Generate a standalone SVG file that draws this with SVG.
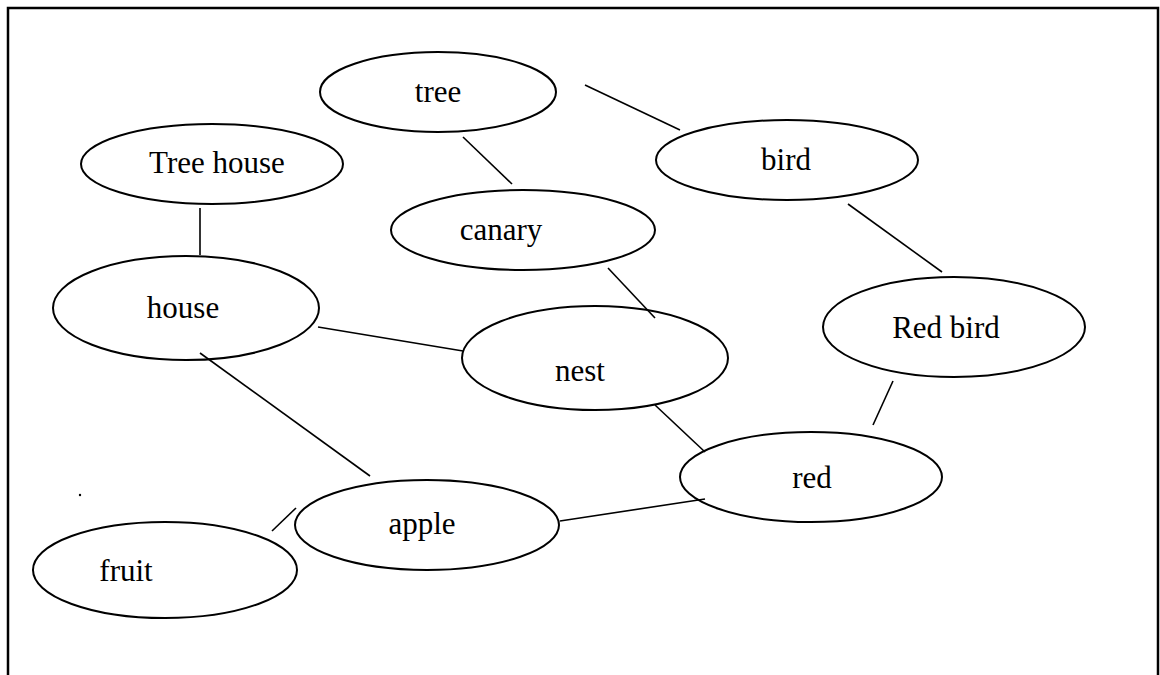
<svg xmlns="http://www.w3.org/2000/svg" width="1160" height="675" viewBox="0 0 1160 675">
<style>
.n{fill:#fff;stroke:#000;stroke-width:2}
.t{font-family:"Liberation Serif","Times New Roman",serif;font-size:31px;fill:#000;text-anchor:middle}
.c line{stroke:#000;stroke-width:1.6}
</style>
<rect width="1160" height="675" fill="#fff"/>
<path d="M8 675 V8 H1158 V675" fill="none" stroke="#000" stroke-width="2.5"/>
<circle cx="80" cy="495" r="1.2" fill="#000"/>
<g id="tree"><ellipse class="n" cx="438" cy="92" rx="118" ry="40"/><text class="t" x="438" y="102">tree</text></g>
<g id="bird"><ellipse class="n" cx="787" cy="160" rx="131" ry="40"/><text class="t" x="786" y="170">bird</text></g>
<g id="treehouse"><ellipse class="n" cx="212" cy="164" rx="131" ry="40"/><text class="t" x="217" y="173">Tree house</text></g>
<g id="canary"><ellipse class="n" cx="523" cy="230" rx="132" ry="40"/><text class="t" x="501" y="240">canary</text></g>
<g id="house"><ellipse class="n" cx="186" cy="308" rx="133" ry="52"/><text class="t" x="183" y="318">house</text></g>
<g id="nest"><ellipse class="n" cx="595" cy="358" rx="133" ry="52"/><text class="t" x="580" y="381">nest</text></g>
<g id="redbird"><ellipse class="n" cx="954" cy="327" rx="131" ry="50"/><text class="t" x="946" y="338">Red bird</text></g>
<g id="red"><ellipse class="n" cx="811" cy="477" rx="131" ry="45"/><text class="t" x="812" y="488">red</text></g>
<g id="apple"><ellipse class="n" cx="427" cy="525" rx="132" ry="45"/><text class="t" x="422" y="534">apple</text></g>
<g id="fruit"><ellipse class="n" cx="165" cy="570" rx="132" ry="48"/><text class="t" x="126" y="581">fruit</text></g>
<g class="c">
<line x1="585" y1="85" x2="680" y2="130"/>
<line x1="463" y1="137" x2="512" y2="184"/>
<line x1="200" y1="208" x2="200" y2="255"/>
<line x1="608" y1="268" x2="655" y2="318"/>
<line x1="848" y1="204" x2="942" y2="272"/>
<line x1="893" y1="381" x2="873" y2="425"/>
<line x1="318" y1="327" x2="463" y2="351"/>
<line x1="655" y1="405" x2="705" y2="452"/>
<line x1="200" y1="353" x2="370" y2="476"/>
<line x1="272" y1="531" x2="296" y2="508"/>
<line x1="560" y1="521" x2="705" y2="499"/>
</g>
</svg>
